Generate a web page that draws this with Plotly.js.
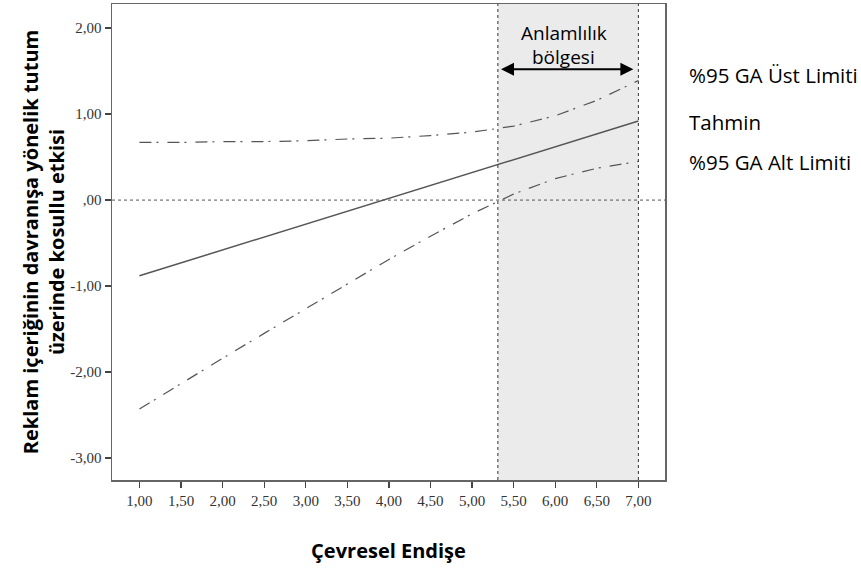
<!DOCTYPE html>
<html>
<head>
<meta charset="utf-8">
<script src="https://cdn.plot.ly/plotly-3.0.1.min.js"></script>
<style>html,body{margin:0;padding:0;background:#fff;}#chart{width:861px;height:568px;}</style>
</head>
<body>
<div id="chart"></div>
<script>
// ---- data ----
const moderator = [1, 1.5, 2, 2.5, 3, 3.5, 4, 4.5, 5, 5.5, 6, 6.5, 7];
const estimate  = [-0.88, -0.73, -0.58, -0.43, -0.28, -0.13, 0.02, 0.17, 0.32, 0.47, 0.62, 0.77, 0.92];
const upperCI   = [0.67, 0.67, 0.68, 0.68, 0.69, 0.71, 0.72, 0.75, 0.79, 0.86, 0.98, 1.16, 1.39];
const lowerCI   = [-2.43, -2.13, -1.84, -1.55, -1.26, -0.97, -0.69, -0.42, -0.16, 0.07, 0.25, 0.37, 0.45];
const regionStart = 5.31;
const regionEnd = 7;
const xTickVals = [1, 1.5, 2, 2.5, 3, 3.5, 4, 4.5, 5, 5.5, 6, 6.5, 7];
const xTickText = ["1,00","1,50","2,00","2,50","3,00","3,50","4,00","4,50","5,00","5,50","6,00","6,50","7,00"];
const yTickVals = [-3, -2, -1, 0, 1, 2];
const yTickText = ["-3,00","-2,00","-1,00",",00","1,00","2,00"];
const seriesNames = ["%95 GA Üst Limiti", "Tahmin", "%95 GA Alt Limiti"];
const regionLabel = ["Anlamlılık", "bölgesi"];
const xTitle = "Çevresel Endişe";
const yTitle = "Reklam içeriğinin davranışa yönelik tutum<br>üzerinde kosullu etkisi";

const sans = "Open Sans, Lato, sans-serif";
const serif = "Liberation Serif, DejaVu Serif, serif";
const dashDot = "12px,5px,2px,9px";

const traces = [
  {x: moderator, y: upperCI, name: seriesNames[0], mode: "lines",
   line: {color: "#555", width: 1.2, dash: dashDot}, hoverinfo: "skip"},
  {x: moderator, y: estimate, name: seriesNames[1], mode: "lines",
   line: {color: "#555", width: 1.5}, hoverinfo: "skip"},
  {x: moderator, y: lowerCI, name: seriesNames[2], mode: "lines",
   line: {color: "#555", width: 1.2, dash: dashDot}, hoverinfo: "skip"}
];

const layout = {
  width: 861, height: 568,
  margin: {l: 112, r: 196, t: 4, b: 88},
  paper_bgcolor: "#fff", plot_bgcolor: "#fff",
  showlegend: false,
  xaxis: {
    range: [0.67, 7.32], tickvals: xTickVals, ticktext: xTickText,
    ticks: "outside", ticklen: 6, tickwidth: 1.3, tickcolor: "#444",
    showline: true, linecolor: "#666", linewidth: 1.5, mirror: true,
    showgrid: false, zeroline: false,
    tickfont: {family: serif, size: 15, color: "#333"},
    title: {text: xTitle, standoff: 36, font: {family: sans, size: 20, color: "#000", weight: "bold"}}
  },
  yaxis: {
    range: [-3.255, 2.28], tickvals: yTickVals, ticktext: yTickText,
    ticks: "outside", ticklen: 6, tickwidth: 1.3, tickcolor: "#444",
    showline: true, linecolor: "#666", linewidth: 1.5, mirror: true,
    showgrid: false, zeroline: false,
    tickfont: {family: serif, size: 15, color: "#333"},
    title: {text: yTitle, standoff: 0, font: {family: sans, size: 20, color: "#000", weight: "bold"}}
  },
  shapes: [
    {type: "rect", xref: "x", yref: "paper", x0: regionStart, x1: regionEnd, y0: 0, y1: 1,
     fillcolor: "#ebebeb", line: {width: 0}, layer: "below"},
    {type: "line", xref: "paper", yref: "y", x0: 0, x1: 1, y0: 0, y1: 0,
     line: {color: "#555", width: 1, dash: "dot"}},
    {type: "line", xref: "x", yref: "paper", x0: regionStart, x1: regionStart, y0: 0, y1: 1,
     line: {color: "#333", width: 1, dash: "dot"}},
    {type: "line", xref: "x", yref: "paper", x0: regionEnd, x1: regionEnd, y0: 0, y1: 1,
     line: {color: "#333", width: 1, dash: "dot"}}
  ],
  annotations: [
    {xref: "x", yref: "y", axref: "x", ayref: "y",
     x: regionEnd - 0.06, y: 1.52, ax: regionStart + 0.02, ay: 1.52,
     text: "", showarrow: true, arrowside: "end+start", arrowhead: 2,
     arrowsize: 1.3, arrowwidth: 2, arrowcolor: "#000"},
    {xref: "x", yref: "paper", x: 6.1, y: 0.94, text: regionLabel[0], showarrow: false,
     font: {family: sans, size: 19, color: "#000"}, xanchor: "center", yanchor: "middle"},
    {xref: "x", yref: "paper", x: 6.1, y: 0.889, text: regionLabel[1], showarrow: false,
     font: {family: sans, size: 19, color: "#000"}, xanchor: "center", yanchor: "middle"},
    {xref: "paper", yref: "paper", x: 1.0398, y: 0.851, text: seriesNames[0], showarrow: false,
     font: {family: sans, size: 20.5, color: "#000"}, xanchor: "left", yanchor: "middle"},
    {xref: "paper", yref: "paper", x: 1.0398, y: 0.753, text: seriesNames[1], showarrow: false,
     font: {family: sans, size: 20.5, color: "#000"}, xanchor: "left", yanchor: "middle"},
    {xref: "paper", yref: "paper", x: 1.0398, y: 0.669, text: seriesNames[2], showarrow: false,
     font: {family: sans, size: 20.5, color: "#000"}, xanchor: "left", yanchor: "middle"}
  ]
};

Plotly.newPlot("chart", traces, layout, {staticPlot: true, displayModeBar: false});
</script>
</body>
</html>
